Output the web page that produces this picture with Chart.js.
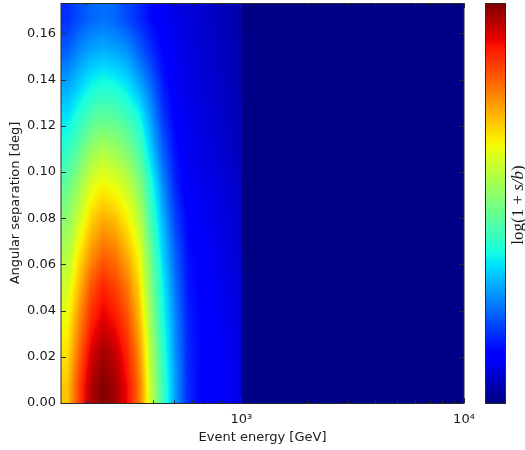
<!DOCTYPE html>
<html>
<head>
<meta charset="utf-8">
<title>Event energy vs angular separation</title>
<script src="https://cdn.jsdelivr.net/npm/chart.js@4"></script>
<style>
  html, body { margin: 0; background: #fff; }
  canvas { display: block; }
</style>
</head>
<body>
<canvas id="grafik" width="525" height="450"></canvas>
<script>
// Data
const energies = [165, 186, 211, 239, 271, 307, 347, 393, 445, 504, 571, 647, 733, 830, 940];
const angles = [0.007, 0.022, 0.036, 0.051, 0.065, 0.079, 0.094, 0.108, 0.123, 0.137, 0.152, 0.166];
// one row per energy, one value per angle (colour scale 0..1)
const logRatio = [
  [0.70, 0.67, 0.64, 0.60, 0.56, 0.52, 0.47, 0.41, 0.35, 0.29, 0.22, 0.17],
  [0.84, 0.80, 0.76, 0.71, 0.66, 0.60, 0.54, 0.47, 0.40, 0.33, 0.26, 0.20],
  [0.96, 0.92, 0.87, 0.82, 0.75, 0.69, 0.62, 0.54, 0.45, 0.37, 0.29, 0.225],
  [1.00, 0.97, 0.92, 0.87, 0.80, 0.73, 0.65, 0.57, 0.47, 0.39, 0.30, 0.235],
  [0.97, 0.94, 0.89, 0.84, 0.78, 0.71, 0.63, 0.55, 0.46, 0.38, 0.29, 0.225],
  [0.90, 0.87, 0.83, 0.78, 0.72, 0.66, 0.59, 0.51, 0.43, 0.35, 0.27, 0.195],
  [0.79, 0.76, 0.72, 0.68, 0.64, 0.58, 0.52, 0.45, 0.38, 0.30, 0.22, 0.165],
  [0.58, 0.56, 0.53, 0.50, 0.47, 0.43, 0.39, 0.33, 0.28, 0.23, 0.17, 0.13],
  [0.42, 0.40, 0.38, 0.36, 0.33, 0.30, 0.26, 0.22, 0.18, 0.15, 0.125, 0.105],
  [0.28, 0.27, 0.26, 0.24, 0.22, 0.19, 0.16, 0.14, 0.12, 0.105, 0.10, 0.09],
  [0.17, 0.165, 0.16, 0.15, 0.14, 0.125, 0.11, 0.10, 0.095, 0.09, 0.085, 0.08],
  [0.13, 0.13, 0.125, 0.12, 0.115, 0.105, 0.095, 0.09, 0.085, 0.08, 0.075, 0.07],
  [0.11, 0.11, 0.11, 0.105, 0.10, 0.095, 0.09, 0.08, 0.075, 0.07, 0.065, 0.06],
  [0.105, 0.105, 0.10, 0.095, 0.09, 0.085, 0.08, 0.07, 0.065, 0.06, 0.055, 0.05],
  [0.095, 0.09, 0.085, 0.08, 0.075, 0.07, 0.065, 0.055, 0.05, 0.045, 0.045, 0.04]
];
// above this energy the map is one flat band
const bandEdge = 1000;
const bandValue = 0.006;

const xMajorTicks = [1000, 10000];
const xMinorTicks = [200, 300, 400, 500, 600, 700, 800, 900, 2000, 3000, 4000, 5000, 6000, 7000, 8000, 9000];
const yTicks = [0, 0.02, 0.04, 0.06, 0.08, 0.10, 0.12, 0.14, 0.16];
const xMin = 154.6, xMax = 10000, yMax = 0.1732;

// Jet colour map
const jetR = [[0, 0], [0.35, 0], [0.66, 1], [0.89, 1], [1, 0.5]];
const jetG = [[0, 0], [0.125, 0], [0.375, 1], [0.64, 1], [0.91, 0], [1, 0]];
const jetB = [[0, 0.5], [0.11, 1], [0.34, 1], [0.65, 0], [1, 0]];

function channel(knots, v) {
  for (let i = 1; i < knots.length; i++) {
    if (v <= knots[i][0]) {
      const [x0, y0] = knots[i - 1], [x1, y1] = knots[i];
      return y0 + (y1 - y0) * (v - x0) / (x1 - x0);
    }
  }
  return knots[knots.length - 1][1];
}
function jet(v) {
  return [channel(jetR, v) * 255, channel(jetG, v) * 255, channel(jetB, v) * 255];
}

// Position of v between neighbouring grid entries
function locate(grid, v) {
  if (v <= grid[0]) return [0, 0, 0];
  const last = grid.length - 1;
  if (v >= grid[last]) return [last, last, 0];
  let i = 0;
  while (grid[i + 1] < v) i++;
  return [i, i + 1, (v - grid[i]) / (grid[i + 1] - grid[i])];
}

const logEnergies = energies.map(Math.log10);

function shade(energy, angle) {
  if (energy >= bandEdge) return bandValue;
  const [i0, i1, tx] = locate(logEnergies, Math.log10(energy));
  const [j0, j1, ty] = locate(angles, angle);
  const a = logRatio[i0][j0] * (1 - ty) + logRatio[i0][j1] * ty;
  const b = logRatio[i1][j0] * (1 - ty) + logRatio[i1][j1] * ty;
  return a * (1 - tx) + b * tx;
}

// Heat map, painted under the frame with the chart's own scales
const heatMap = {
  id: "heatMap",
  beforeDatasetsDraw(chart) {
    const { ctx, chartArea: area, scales: { x, y } } = chart;
    const w = Math.round(area.right - area.left), h = Math.round(area.bottom - area.top);
    const off = document.createElement("canvas");
    off.width = w;
    off.height = h;
    const offCtx = off.getContext("2d");
    const img = offCtx.createImageData(w, h);
    for (let py = 0; py < h; py++) {
      const angle = y.getValueForPixel(area.top + py + 0.5);
      for (let px = 0; px < w; px++) {
        const [r, g, b] = jet(shade(x.getValueForPixel(area.left + px + 0.5), angle));
        const k = (py * w + px) * 4;
        img.data[k] = r;
        img.data[k + 1] = g;
        img.data[k + 2] = b;
        img.data[k + 3] = 255;
      }
    }
    offCtx.putImageData(img, 0, 0);
    ctx.drawImage(off, area.left, area.top);
  }
};

// Inside ticks and frame
const frame = {
  id: "frame",
  afterDatasetsDraw(chart) {
    const { ctx, chartArea: area, scales: { x, y } } = chart;
    ctx.save();
    ctx.strokeStyle = "#2a2a2a";
    ctx.lineWidth = 1;
    const line = (x0, y0, x1, y1) => {
      ctx.beginPath();
      ctx.moveTo(x0, y0);
      ctx.lineTo(x1, y1);
      ctx.stroke();
    };
    xMajorTicks.concat(xMinorTicks).forEach(v => {
      const len = xMajorTicks.includes(v) ? 5 : 2.5;
      const px = Math.round(x.getPixelForValue(v)) + 0.5;
      line(px, area.bottom, px, area.bottom - len);
      line(px, area.top, px, area.top + len);
    });
    yTicks.forEach(v => {
      const py = Math.round(y.getPixelForValue(v)) + 0.5;
      line(area.left, py, area.left + 5, py);
      line(area.right, py, area.right - 5, py);
    });
    ctx.strokeRect(area.left, area.top + 0.5, area.right - area.left, area.bottom - area.top);
    ctx.restore();
  }
};

// Colour bar on the right
const colorBar = {
  id: "colorBar",
  afterDraw(chart) {
    const { ctx, chartArea: area } = chart;
    const left = 485, width = 20, top = area.top, height = area.bottom - area.top;
    const grad = ctx.createLinearGradient(0, top + height, 0, top);
    [0, 0.11, 0.125, 0.34, 0.35, 0.375, 0.64, 0.65, 0.66, 0.89, 0.91, 1].forEach(s => {
      const [r, g, b] = jet(s);
      grad.addColorStop(s, `rgb(${r}, ${g}, ${b})`);
    });
    ctx.save();
    ctx.fillStyle = grad;
    ctx.fillRect(left, top, width, height);
    ctx.strokeStyle = "#2a2a2a";
    ctx.strokeRect(left + 0.5, top + 0.5, width, height);

    // label: log(1 + s/b)
    ctx.translate(519, 205);
    ctx.rotate(-Math.PI / 2);
    ctx.fillStyle = "#1a1a1a";
    ctx.textBaseline = "middle";
    const parts = [
      ["log(1 + ", "17px 'Liberation Serif'"],
      ["s/b", "italic 17px 'Liberation Serif'"],
      [")", "17px 'Liberation Serif'"]
    ];
    let total = 0;
    parts.forEach(([t, f]) => { ctx.font = f; total += ctx.measureText(t).width; });
    let pos = -total / 2;
    parts.forEach(([t, f]) => {
      ctx.font = f;
      ctx.fillText(t, pos, 0);
      pos += ctx.measureText(t).width;
    });
    ctx.restore();
  }
};

const points = [];
energies.forEach((e, i) => angles.forEach((a, j) => points.push({ x: e, y: a, v: logRatio[i][j] })));

const tickFont = { family: "'DejaVu Sans'", size: 13 };
const titleFont = { family: "'DejaVu Sans'", size: 13 };

new Chart(document.getElementById("grafik").getContext("2d"), {
  type: "scatter",
  data: { datasets: [{ data: points, pointRadius: 0, pointHoverRadius: 0 }] },
  options: {
    responsive: false,
    animation: false,
    devicePixelRatio: 1,
    events: [],
    layout: { padding: { left: 0, right: 61, top: 3, bottom: 0 } },
    plugins: { legend: { display: false }, tooltip: { enabled: false } },
    scales: {
      x: {
        type: "logarithmic",
        min: xMin,
        max: xMax,
        grid: { display: false, drawTicks: false },
        border: { display: false },
        afterBuildTicks: s => { s.ticks = xMajorTicks.map(value => ({ value })); },
        afterFit: s => { s.height = 47; s.paddingLeft = 0; s.paddingRight = 0; },
        ticks: {
          autoSkip: false,
          maxRotation: 0,
          padding: 9,
          color: "#1a1a1a",
          font: tickFont,
          callback: v => (v === 1000 ? "10³" : v === 10000 ? "10⁴" : "")
        },
        title: { display: true, text: "Event energy [GeV]", color: "#1a1a1a", font: titleFont, padding: { top: 0, bottom: 5 } }
      },
      y: {
        min: 0,
        max: yMax,
        grid: { display: false, drawTicks: false },
        border: { display: false },
        afterBuildTicks: s => { s.ticks = yTicks.map(value => ({ value })); },
        afterFit: s => { s.width = 61; s.paddingTop = 0; s.paddingBottom = 0; },
        ticks: {
          autoSkip: false,
          padding: 5,
          color: "#1a1a1a",
          font: tickFont,
          callback: v => v.toFixed(2)
        },
        title: { display: true, text: "Angular separation [deg]", color: "#1a1a1a", font: titleFont, padding: { top: 8, bottom: 0 } }
      }
    }
  },
  plugins: [heatMap, frame, colorBar]
});
</script>
</body>
</html>
